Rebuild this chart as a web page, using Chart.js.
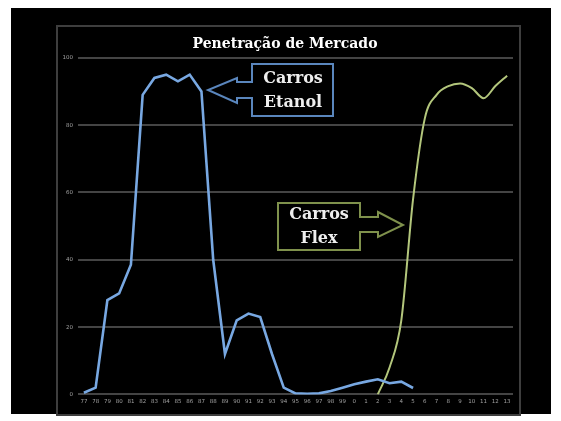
<!DOCTYPE html>
<html>
<head>
<meta charset="utf-8">
<script src="https://cdn.jsdelivr.net/npm/chart.js@4"></script>
<style>
  html, body { margin: 0; padding: 0; background: #ffffff; }
  canvas { display: block; }
</style>
</head>
<body>
<canvas id="c" width="561" height="421"></canvas>
<script>
// Years 1977–2013 shown as two-digit labels
const categories = ['77','78','79','80','81','82','83','84','85','86','87','88','89','90','91','92','93','94','95','96','97','98','99',
                    '0','1','2','3','4','5','6','7','8','9','10','11','12','13'];

// Share of new car sales (%)
const etanol = [0.5, 2, 28, 30, 38.5, 89, 94, 95, 93, 95, 90, 40, 12, 22, 24, 23, 12, 2, 0.3, 0.2, 0.3, 1, 2,
                3, 3.8, 4.5, 3.3, 3.8, 1.9, null, null, null, null, null, null, null, null];
const flex = [null, null, null, null, null, null, null, null, null, null, null, null, null, null, null, null, null, null, null, null, null, null, null,
              null, null, 0, 8, 22, 58, 82, 89, 91.6, 92.4, 91, 88, 91.6, 94.7];

const yTicks = [0, 20, 40, 60, 80, 100];

const titleText = 'Penetração de Mercado';
const etanolLabel = ['Carros', 'Etanol'];
const flexLabel = ['Carros', 'Flex'];

// Backdrop: white page, black slide, grey frame around the plot
const backdrop = {
  id: 'backdrop',
  beforeDraw(chart) {
    const ctx = chart.ctx;
    ctx.save();
    ctx.fillStyle = '#ffffff';
    ctx.fillRect(0, 0, chart.width, chart.height);
    ctx.fillStyle = '#000000';
    ctx.fillRect(11, 8, 540, 406);
    ctx.strokeStyle = '#3e3e3e';
    ctx.lineWidth = 2;
    ctx.strokeRect(57, 26, 463, 389);
    ctx.restore();
  }
};

// Arrow-shaped callout boxes with their captions
const callouts = {
  id: 'callouts',
  afterDatasetsDraw(chart) {
    const ctx = chart.ctx;
    ctx.save();
    ctx.lineJoin = 'miter';
    ctx.lineWidth = 2;

    // left-pointing callout for ethanol cars
    ctx.strokeStyle = '#5a86bd';
    ctx.beginPath();
    ctx.moveTo(252, 64);
    ctx.lineTo(333, 64);
    ctx.lineTo(333, 116);
    ctx.lineTo(252, 116);
    ctx.lineTo(252, 98);
    ctx.lineTo(237, 98);
    ctx.lineTo(237, 103);
    ctx.lineTo(208, 90);
    ctx.lineTo(237, 78);
    ctx.lineTo(237, 82);
    ctx.lineTo(252, 82);
    ctx.closePath();
    ctx.stroke();

    // right-pointing callout for flex-fuel cars
    ctx.strokeStyle = '#7f914c';
    ctx.beginPath();
    ctx.moveTo(278, 203);
    ctx.lineTo(360, 203);
    ctx.lineTo(360, 217);
    ctx.lineTo(378, 217);
    ctx.lineTo(378, 212);
    ctx.lineTo(403, 225);
    ctx.lineTo(378, 237);
    ctx.lineTo(378, 232);
    ctx.lineTo(360, 232);
    ctx.lineTo(360, 250);
    ctx.lineTo(278, 250);
    ctx.closePath();
    ctx.stroke();

    ctx.fillStyle = '#eeeeee';
    ctx.font = 'bold 16px "DejaVu Serif"';
    ctx.textAlign = 'center';
    ctx.textBaseline = 'middle';
    ctx.fillText(etanolLabel[0], 293, 79);
    ctx.fillText(etanolLabel[1], 293, 103);
    ctx.fillText(flexLabel[0], 319, 215);
    ctx.fillText(flexLabel[1], 319, 239);
    ctx.restore();
  }
};

new Chart(document.getElementById('c'), {
  type: 'line',
  data: {
    labels: categories,
    datasets: [
      {
        label: 'Carros Etanol',
        data: etanol,
        borderColor: '#78a8e2',
        borderWidth: 2.6,
        pointRadius: 0,
        tension: 0,
        spanGaps: false
      },
      {
        label: 'Carros Flex',
        data: flex,
        borderColor: '#b3c67c',
        borderWidth: 2,
        pointRadius: 0,
        cubicInterpolationMode: 'monotone',
        spanGaps: false
      }
    ]
  },
  options: {
    responsive: false,
    animation: false,
    layout: { padding: { left: 57, right: 48, top: 26, bottom: 12 } },
    plugins: {
      legend: { display: false },
      tooltip: { enabled: false },
      title: {
        display: true,
        text: titleText,
        color: '#ffffff',
        font: { family: 'DejaVu Serif', size: 14, weight: 'bold' },
        padding: { top: 10, bottom: 5 }
      }
    },
    scales: {
      x: {
        offset: true,
        grid: { display: false, drawTicks: false },
        border: { display: false },
        ticks: {
          autoSkip: false,
          maxRotation: 0,
          minRotation: 0,
          padding: 4,
          color: '#a0a0a0',
          font: { family: 'DejaVu Sans', size: 5.5 }
        }
      },
      y: {
        min: 0,
        max: 100,
        afterBuildTicks(scale) { scale.ticks = yTicks.map(v => ({ value: v })); },
        afterFit(scale) { scale.width = 21; },
        grid: { color: '#444444', lineWidth: 2, drawTicks: false },
        border: { display: false },
        ticks: {
          padding: 5,
          color: '#a0a0a0',
          font: { family: 'DejaVu Sans', size: 5.5 }
        }
      }
    }
  },
  plugins: [backdrop, callouts]
});
</script>
</body>
</html>
